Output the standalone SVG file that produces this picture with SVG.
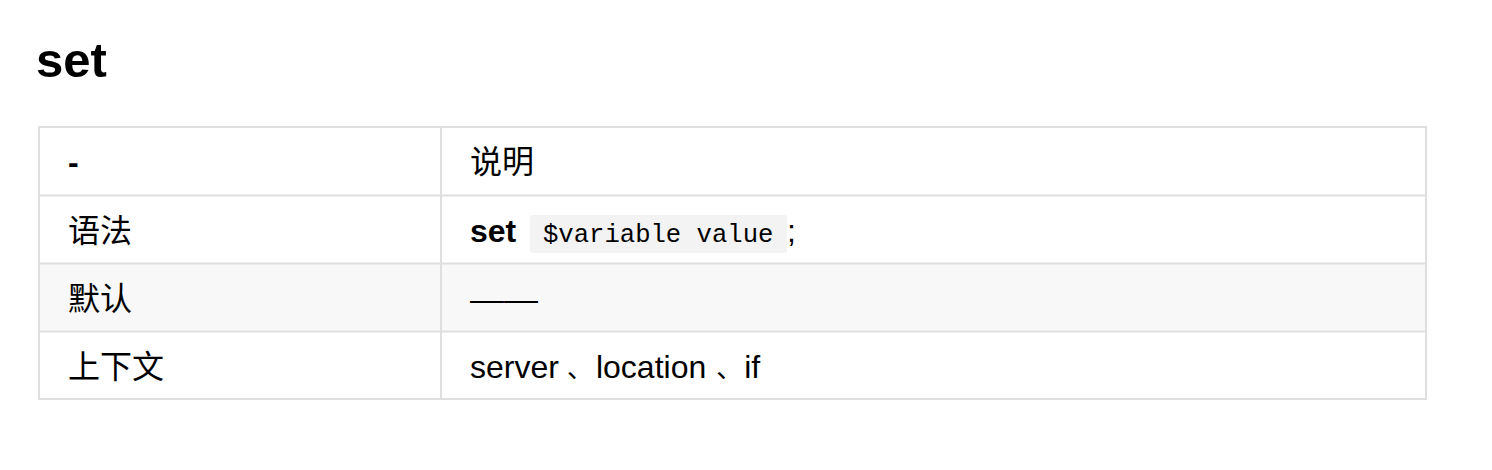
<svg xmlns="http://www.w3.org/2000/svg" width="1492" height="470" viewBox="0 0 1492 470">
<style>
.t{font-family:"Liberation Sans","Noto Sans CJK SC",Arial,sans-serif;font-size:32px;fill:#000}
.b{font-weight:bold}
.m{font-family:"Liberation Mono","DejaVu Sans Mono",monospace;font-size:25.6px;fill:#000}
.p{font-size:26px}
.ln{stroke:#dfdfdf;stroke-width:2;fill:none}
</style>
<rect width="1492" height="470" fill="#fff"/>
<g id="title">
<text x="36" y="77" class="t b" style="font-size:49px">set</text>
</g>
<g id="table">
<rect x="39" y="264" width="1387" height="67" fill="#f8f8f8"/>
<rect x="530" y="215" width="257" height="38" rx="3" fill="#f3f3f3"/>
<rect x="39" y="127" width="1387" height="272" class="ln"/>
<line x1="441" y1="127" x2="441" y2="399" class="ln"/>
<line x1="39" y1="195.5" x2="1426" y2="195.5" class="ln"/>
<line x1="39" y1="263.5" x2="1426" y2="263.5" class="ln"/>
<line x1="39" y1="331.5" x2="1426" y2="331.5" class="ln"/>
</g>
<g id="row-header">
<text x="68" y="173" class="t b">-</text>
<text x="470" y="173" class="t">说明</text>
</g>
<g id="row-syntax">
<text x="68" y="241.5" class="t">语法</text>
<text x="470" y="241.5" class="t b">set</text>
<text x="543" y="241.5" class="m">$variable value</text>
<text x="787" y="241.5" class="t">;</text>
</g>
<g id="row-default">
<text x="68" y="309.5" class="t">默认</text>
<text x="470" y="309.5" class="t" textLength="68" lengthAdjust="spacingAndGlyphs">——</text>
</g>
<g id="row-context">
<text x="68" y="377.5" class="t">上下文</text>
<text x="470" y="377.5" class="t">server<tspan class="p" dx="8">、</tspan><tspan dx="3">location</tspan><tspan class="p" dx="10">、</tspan><tspan dx="2">if</tspan></text>
</g>
</svg>
